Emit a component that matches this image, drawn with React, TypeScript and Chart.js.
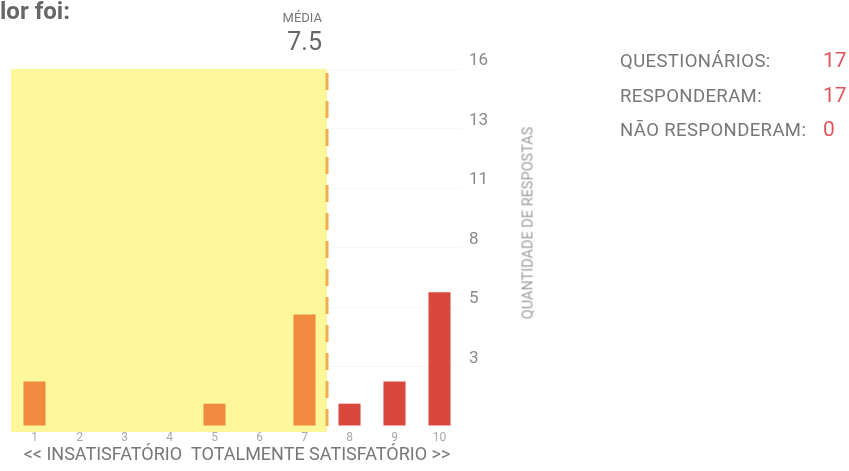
import React, { useEffect, useRef } from 'react';
import { Chart, registerables } from 'chart.js';

Chart.register(...registerables);

// ---- data ----
const CATEGORIES = ['1', '2', '3', '4', '5', '6', '7', '8', '9', '10'];
const RESPONSES = [2, 0, 0, 0, 1, 0, 5, 1, 2, 6];
const Y_MAX = 16;
const Y_TICK_LABELS = ['', '3', '5', '8', '11', '13', '16'];
const MEAN = 7.5;
const MEAN_LABEL = '7.5';
const SATISFIED_FROM = 8;
const SUMMARY_LABELS = ['QUESTIONÁRIOS:', 'RESPONDERAM:', 'NÃO RESPONDERAM:'];
const SUMMARY_VALUES = [17, 17, 0];
const TITLE = 'lor foi:';
const X_TITLE = '<< INSATISFATÓRIO  TOTALMENTE SATISFATÓRIO >>';
const Y_TITLE = 'QUANTIDADE DE RESPOSTAS';

// ---- styles ----
const FONT = 'Roboto, "Noto Sans", Arial, sans-serif';
const YELLOW = '#fdf79c';
const ORANGE = '#ef8a3e';
const RED = '#d9483c';
const DASH = '#f0ae4e';
const NUM_RED = '#e0565a';

const W = 849;
const H = 471;

const meanZonePlugin = {
  id: 'meanZone',
  beforeDatasetsDraw(chart: any) {
    const { ctx, chartArea, scales } = chart;
    const x = scales.x;
    const y = scales.y;
    const xm = x.getPixelForValue(MEAN - Number(CATEGORIES[0]));
    const yTop = y.getPixelForValue(Y_MAX);
    ctx.save();
    ctx.fillStyle = YELLOW;
    ctx.fillRect(chartArea.left - 1, yTop, xm - chartArea.left + 1, chartArea.bottom + 6 - yTop);
    ctx.restore();
  },
  afterDatasetsDraw(chart: any) {
    const { ctx, chartArea, scales } = chart;
    const xm = scales.x.getPixelForValue(MEAN - Number(CATEGORIES[0]));
    const yTop = scales.y.getPixelForValue(Y_MAX);
    ctx.save();
    ctx.strokeStyle = DASH;
    ctx.lineWidth = 3;
    ctx.setLineDash([17, 11]);
    ctx.beginPath();
    ctx.moveTo(xm, yTop + 4);
    ctx.lineTo(xm, chartArea.bottom + 4);
    ctx.stroke();
    ctx.restore();
  },
};

export default function App() {
  const canvasRef = useRef<HTMLCanvasElement | null>(null);

  useEffect(() => {
    if (!canvasRef.current) return;
    Chart.defaults.font.family = FONT;
    const chart = new Chart(canvasRef.current, {
      type: 'bar',
      data: {
        labels: CATEGORIES,
        datasets: [
          {
            data: RESPONSES,
            backgroundColor: CATEGORIES.map((c) => (Number(c) >= SATISFIED_FROM ? RED : ORANGE)),
            borderWidth: 0,
            barPercentage: 0.49,
            categoryPercentage: 1,
          },
        ],
      },
      options: {
        responsive: false,
        animation: false,
        devicePixelRatio: 1,
        layout: { padding: { left: 12, top: 69, right: W - 462 - 40, bottom: 0 } },
        plugins: {
          legend: { display: false },
          tooltip: { enabled: false },
          title: { display: false },
        },
        scales: {
          x: {
            type: 'category',
            offset: true,
            grid: { display: false, drawTicks: false },
            border: { display: false },
            ticks: { color: '#a8a8a8', font: { size: 12 }, padding: 5 },
            title: {
              display: true,
              text: X_TITLE,
              color: '#777777',
              font: { size: 18 },
              padding: { top: 0, bottom: 5 },
            },
            afterFit: (scale: any) => {
              scale.height = 45;
            },
          },
          y: {
            position: 'right',
            min: 0,
            max: Y_MAX,
            grid: {
              drawTicks: false,
              color: (c: any) => (c.index === 0 ? 'rgba(0,0,0,0)' : 'rgba(0,0,0,0.03)'),
            },
            border: { display: false },
            afterBuildTicks: (scale: any) => {
              scale.ticks = Y_TICK_LABELS.map((_, i) => ({ value: (i * Y_MAX) / (Y_TICK_LABELS.length - 1) }));
            },
            ticks: {
              color: '#8a8a8a',
              font: { size: 17 },
              padding: 7,
              labelOffset: -8,
              callback: (_v: any, i: number) => Y_TICK_LABELS[i],
            },
            afterFit: (scale: any) => {
              scale.width = 40;
            },
          },
        },
      },
      plugins: [meanZonePlugin],
    } as any);
    return () => chart.destroy();
  }, []);

  const abs: React.CSSProperties = { position: 'absolute', whiteSpace: 'nowrap', fontFamily: FONT };

  return (
    <div style={{ position: 'absolute', left: 0, top: 0, width: W, height: H, overflow: 'hidden', background: '#fff' }}>
      <canvas ref={canvasRef} width={W} height={H} style={{ position: 'absolute', left: 0, top: 0, width: W, height: H }} />
      <div style={{ ...abs, left: 0, top: -3, fontSize: 24, fontWeight: 700, color: '#666', lineHeight: '28px' }}>{TITLE}</div>
      <div style={{ ...abs, right: W - 322, top: 11, fontSize: 13, lineHeight: '13px', color: '#777' }}>MÉDIA</div>
      <div style={{ ...abs, right: W - 322, top: 29, fontSize: 25, lineHeight: '26px', color: '#666' }}>{MEAN_LABEL}</div>
      <div
        style={{
          ...abs,
          left: 528,
          top: 223,
          fontSize: 14.5,
          lineHeight: '15px',
          color: '#a0a0a0',
          transform: 'translate(-50%, -50%) rotate(-90deg)',
        }}
      >
        {Y_TITLE}
      </div>
      {SUMMARY_LABELS.map((label, i) => (
        <React.Fragment key={label}>
          <div
            style={{
              ...abs,
              left: 620,
              top: 61 + i * 34.5 - 11,
              fontSize: 18.5,
              letterSpacing: '0.4px',
              lineHeight: '22px',
              color: '#777',
            }}
          >
            {label}
          </div>
          <div style={{ ...abs, left: 823, top: 61 + i * 34.5 - 13, fontSize: 21, lineHeight: '24px', color: NUM_RED }}>
            {SUMMARY_VALUES[i]}
          </div>
        </React.Fragment>
      ))}
    </div>
  );
}
